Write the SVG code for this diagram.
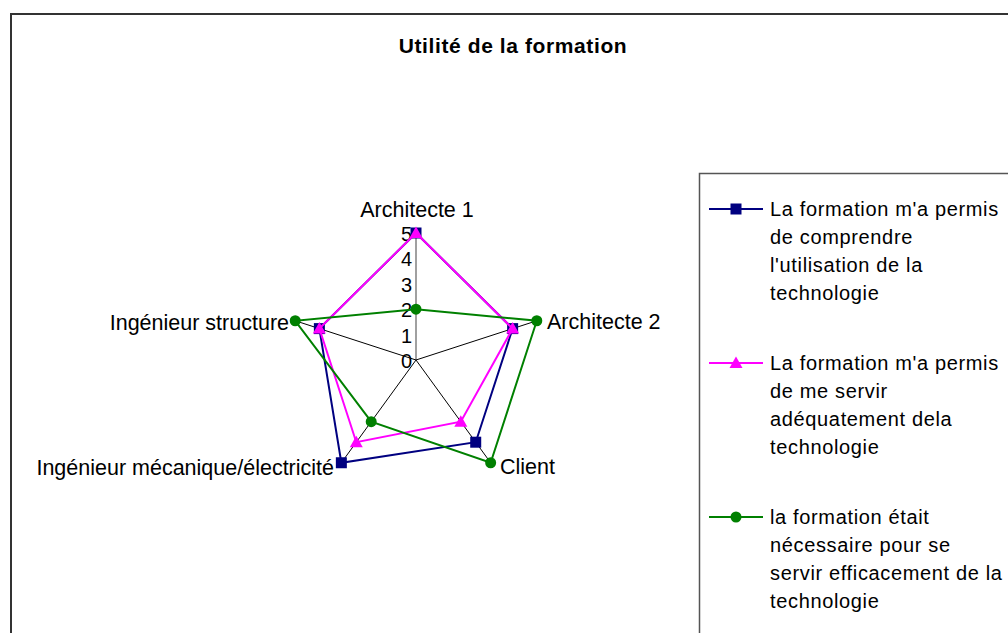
<svg xmlns="http://www.w3.org/2000/svg" width="1008" height="633" viewBox="0 0 1008 633">
  <style>
    text { font-family: "Liberation Sans", Arial, sans-serif; fill: #000; }
    .title { font-size: 21px; font-weight: bold; letter-spacing: 0.6px; }
    .lbl { font-size: 21.5px; }
    .tick { font-size: 20px; text-anchor: end; }
    .leg { font-size: 20px; letter-spacing: 0.65px; }
    .spoke { stroke: #000; stroke-width: 1; fill: none; }
    .s1 { stroke: #000080; stroke-width: 2; fill: none; }
    .s2 { stroke: #FF00FF; stroke-width: 2; fill: none; }
    .s3 { stroke: #008000; stroke-width: 2; fill: none; }
  </style>
  <defs>
    <rect id="sq" x="-5.5" y="-5.5" width="11" height="11" fill="#000080"/>
    <polygon id="tri" points="0,-6.5 6.5,5 -6.5,5" fill="#FF00FF"/>
    <circle id="dot" r="5.5" fill="#008000"/>
  </defs>

  <rect width="1008" height="633" fill="#fff"/>
  <!-- chart area frame -->
  <path d="M11,633 V14 H1008" fill="none" stroke="#333" stroke-width="2"/>

  <text class="title" x="513" y="53" text-anchor="middle">Utilité de la formation</text>

  <!-- radar axes -->
  <g id="axes">
    <line x1="416" y1="360" x2="416" y2="233" stroke="#808080" stroke-width="1.5"/>
    <line class="spoke" x1="416" y1="360" x2="536.79" y2="320.75"/>
    <line class="spoke" x1="416" y1="360" x2="490.65" y2="462.75"/>
    <line class="spoke" x1="416" y1="360" x2="341.35" y2="462.75"/>
    <line class="spoke" x1="416" y1="360" x2="295.22" y2="320.75"/>
    <text class="tick" x="412" y="368">0</text>
    <text class="tick" x="412" y="342.6">1</text>
    <text class="tick" x="412" y="317.2">2</text>
    <text class="tick" x="412" y="291.8">3</text>
    <text class="tick" x="412" y="266.4">4</text>
    <text class="tick" x="412" y="241">5</text>
  </g>

  <g id="category-labels">
    <text class="lbl" x="417" y="217" text-anchor="middle">Architecte 1</text>
    <text class="lbl" x="547" y="329">Architecte 2</text>
    <text class="lbl" x="500" y="474">Client</text>
    <text class="lbl" x="334" y="475" text-anchor="end">Ingénieur mécanique/électricité</text>
    <text class="lbl" x="289" y="330" text-anchor="end">Ingénieur structure</text>
  </g>

  <g id="series">
    <g id="serie-comprendre">
      <polygon class="s1" points="416,233 512.63,328.6 475.72,442.2 341.35,462.75 319.37,328.6"/>
      <use href="#sq" x="416" y="233"/>
      <use href="#sq" x="512.63" y="328.6"/>
      <use href="#sq" x="475.72" y="442.2"/>
      <use href="#sq" x="341.35" y="462.75"/>
      <use href="#sq" x="319.37" y="328.6"/>
    </g>
    <g id="serie-servir">
      <polygon class="s2" points="416,233 512.63,328.6 460.79,421.65 356.28,442.2 319.37,328.6"/>
      <use href="#tri" x="416" y="233"/>
      <use href="#tri" x="512.63" y="328.6"/>
      <use href="#tri" x="460.79" y="421.65"/>
      <use href="#tri" x="356.28" y="442.2"/>
      <use href="#tri" x="319.37" y="328.6"/>
    </g>
    <g id="serie-necessaire">
      <polygon class="s3" points="416,309.2 536.79,320.75 490.65,462.75 371.21,421.65 295.22,320.75"/>
      <use href="#dot" x="416" y="309.2"/>
      <use href="#dot" x="536.79" y="320.75"/>
      <use href="#dot" x="490.65" y="462.75"/>
      <use href="#dot" x="371.21" y="421.65"/>
      <use href="#dot" x="295.22" y="320.75"/>
    </g>
  </g>

  <g id="legend">
    <path d="M699.5,633 V173.5 H1008" fill="none" stroke="#555" stroke-width="1.5"/>
    <g id="legend-1">
      <line class="s1" x1="709" y1="209" x2="763" y2="209"/>
      <use href="#sq" x="736" y="209"/>
      <text class="leg" x="770" y="216">La formation m'a permis</text>
      <text class="leg" x="770" y="244">de comprendre</text>
      <text class="leg" x="770" y="272">l'utilisation de la</text>
      <text class="leg" x="770" y="300">technologie</text>
    </g>
    <g id="legend-2">
      <line class="s2" x1="709" y1="363" x2="763" y2="363"/>
      <use href="#tri" x="736" y="363"/>
      <text class="leg" x="770" y="370">La formation m'a permis</text>
      <text class="leg" x="770" y="398">de me servir</text>
      <text class="leg" x="770" y="426">adéquatement dela</text>
      <text class="leg" x="770" y="454">technologie</text>
    </g>
    <g id="legend-3">
      <line class="s3" x1="709" y1="517" x2="763" y2="517"/>
      <use href="#dot" x="736" y="517"/>
      <text class="leg" x="770" y="524">la formation était</text>
      <text class="leg" x="770" y="552">nécessaire pour se</text>
      <text class="leg" x="770" y="580">servir efficacement de la</text>
      <text class="leg" x="770" y="608">technologie</text>
    </g>
  </g>
</svg>
